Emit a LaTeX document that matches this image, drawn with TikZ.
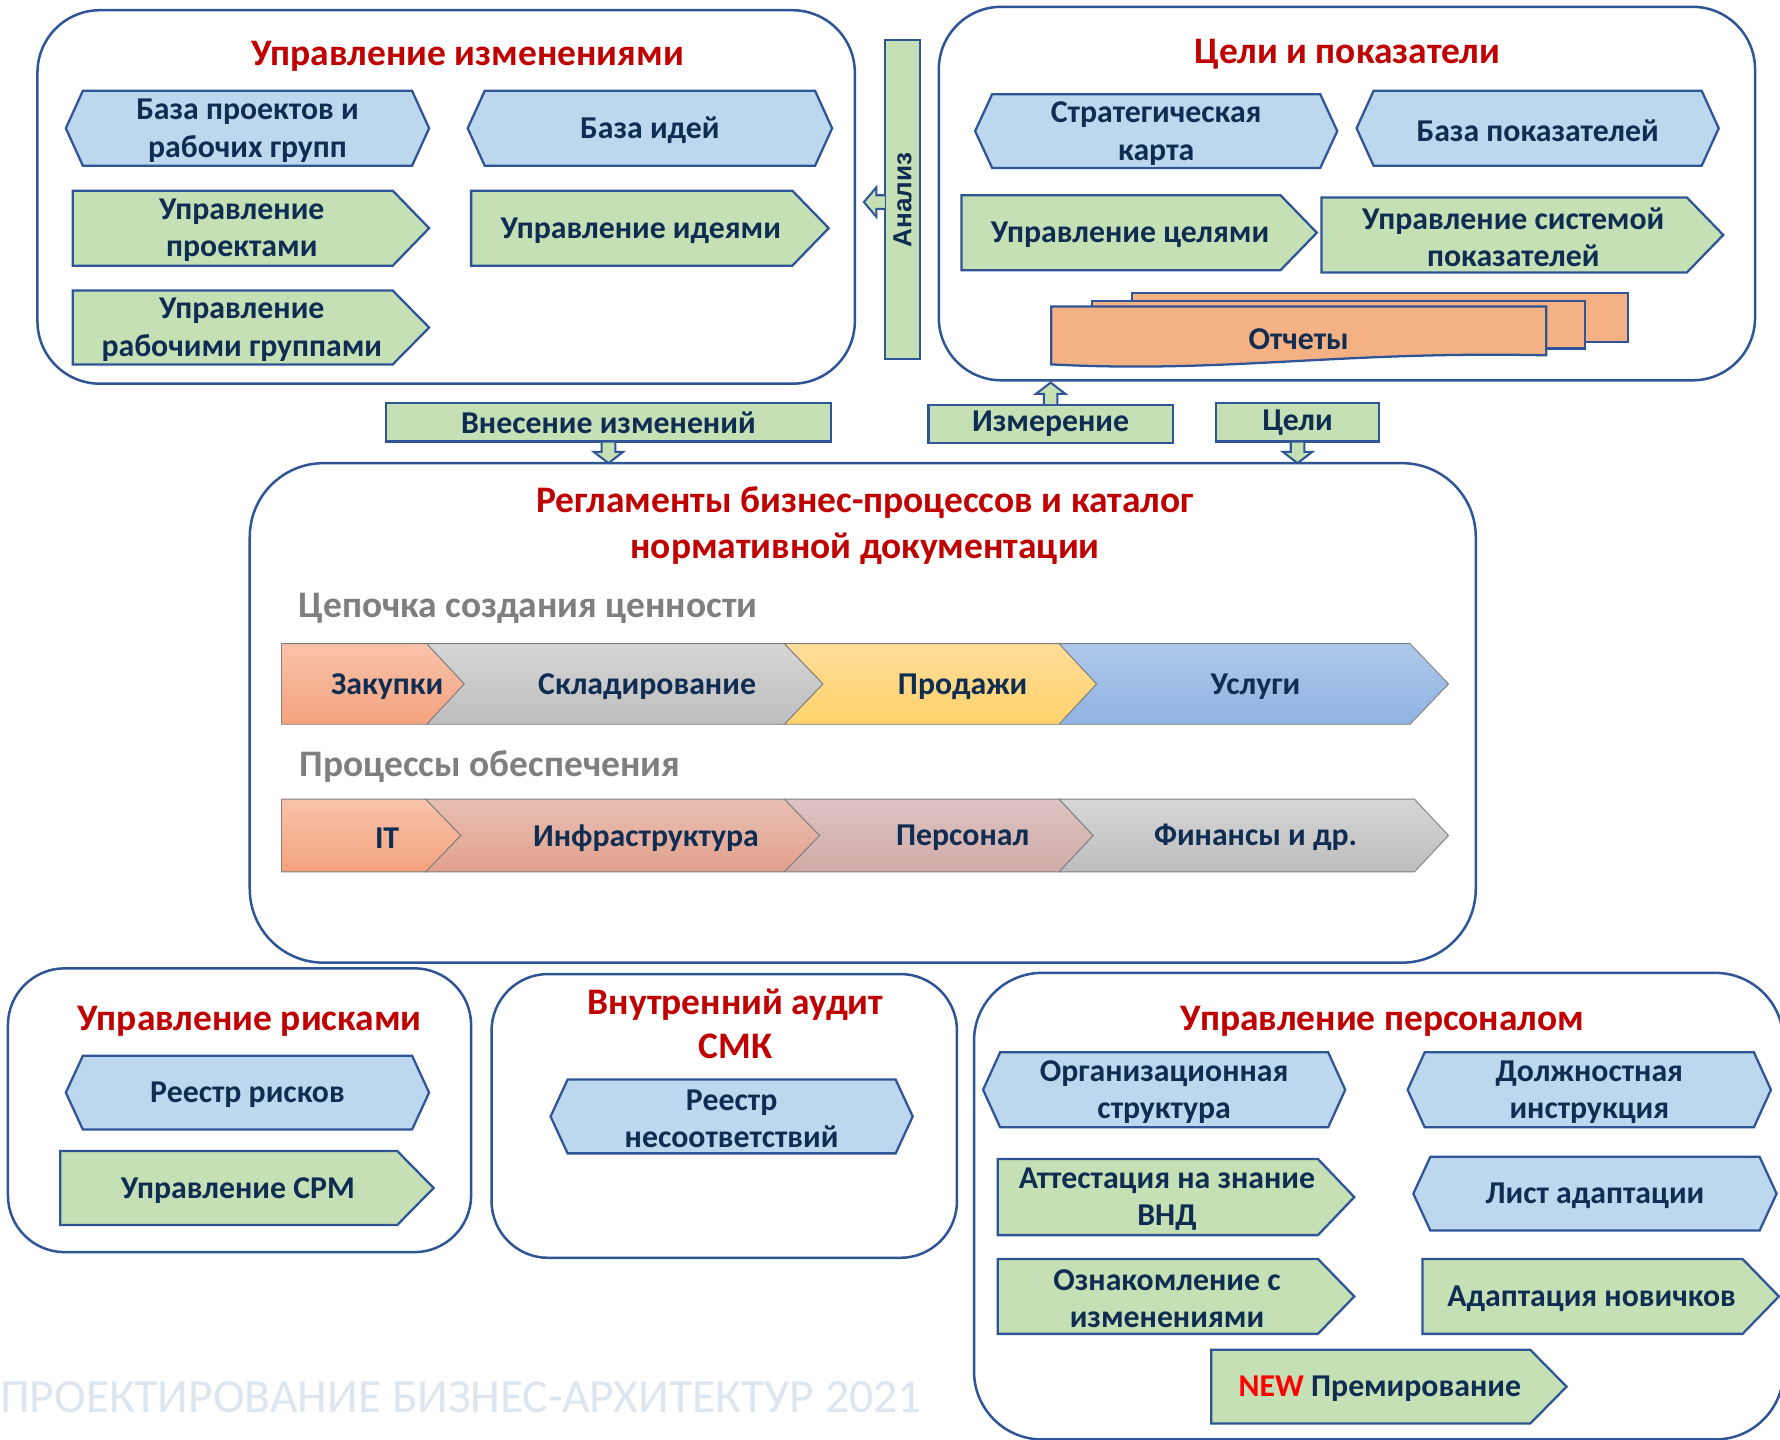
\documentclass[tikz,border=0pt]{standalone}
\usepackage{fontspec}
\setmainfont{Carlito}
\newfontfamily\arialf{Liberation Sans}
\usetikzlibrary{calc}
\definecolor{navy}{HTML}{0F2D52}
\definecolor{frame}{HTML}{2F5597}
\definecolor{hexfill}{HTML}{BDD7EE}
\definecolor{grnfill}{HTML}{C5E0B4}
\definecolor{ttl}{HTML}{C00000}
\definecolor{repfill}{HTML}{F4B183}
\definecolor{graytxt}{HTML}{7F7F7F}
\definecolor{wm}{HTML}{DDE5EE}
\definecolor{zakT}{HTML}{F8C3AA}\definecolor{zakB}{HTML}{F4A27E}
\definecolor{grT}{HTML}{D6D6D6}\definecolor{grB}{HTML}{BDBDBD}
\definecolor{prT}{HTML}{FFDD9A}\definecolor{prB}{HTML}{FFD26A}
\definecolor{usT}{HTML}{AEC8EA}\definecolor{usB}{HTML}{8FB3E2}
\definecolor{infT}{HTML}{E8BFB3}\definecolor{infB}{HTML}{E2A08C}
\definecolor{perT}{HTML}{DCC4C2}\definecolor{perB}{HTML}{D0AAA7}
\definecolor{chevline}{HTML}{808080}
\tikzset{
  x=1pt, y=-1pt,
  panel/.style={draw=frame, line width=2.2pt, rounded corners=55pt},
  hexshape/.style={draw=frame, fill=hexfill, line width=2pt},
  grnshape/.style={draw=frame, fill=grnfill, line width=2pt},
  repshape/.style={draw=frame, fill=repfill, line width=2pt},
  txt/.style={font=\fontsize{28}{33}\selectfont\bfseries, text=navy, align=center, inner sep=0pt},
  ttlstyle/.style={font=\fontsize{33}{40}\selectfont\bfseries, text=ttl, align=center, inner sep=0pt},
  substyle/.style={font=\fontsize{33}{38}\selectfont\bfseries, text=graytxt, anchor=west, inner sep=0pt},
  chev/.style={draw=chevline, line width=0.8pt},
  lblbox/.style={draw=frame, fill=grnfill, line width=2pt, inner sep=0pt, font=\fontsize{28}{33}\selectfont\bfseries, text=navy},
  blk/.style={draw=frame, fill=grnfill, line width=1.8pt},
}
\newcommand\hexnode[6]{%
  \draw[hexshape] (#2,{(#3+#5)/2}) -- (#2+15,#3) -- (#4-15,#3) -- (#4,{(#3+#5)/2}) -- (#4-15,#5) -- (#2+15,#5) -- cycle;
  \node[txt] (#1) at ({(#2+#4)/2},{(#3+#5)/2+2}) {#6};}
\newcommand\grnnode[6]{%
  \draw[grnshape] (#2,#3) -- (#4-32,#3) -- (#4,{(#3+#5)/2}) -- (#4-32,#5) -- (#2,#5) -- cycle;
  \node[txt] (#1) at ({(#2+#4-16)/2},{(#3+#5)/2+2}) {#6};}
\newcommand\blkdown[2]{%
  \draw[blk] ($(#1)+(-6,0)$) -- ($(#2)+(-6,-10)$) -- ($(#2)+(-13,-10)$) -- (#2) -- ($(#2)+(13,-10)$) -- ($(#2)+(6,-10)$) -- ($(#1)+(6,0)$);}
\newcommand\blkup[2]{%
  \draw[blk] ($(#1)+(-6,0)$) -- ($(#2)+(-6,10)$) -- ($(#2)+(-13,10)$) -- (#2) -- ($(#2)+(13,10)$) -- ($(#2)+(6,10)$) -- ($(#1)+(6,0)$);}
\newcommand\blkleft[2]{%
  \draw[blk] ($(#1)+(0,-6)$) -- ($(#2)+(11,-6)$) -- ($(#2)+(11,-13)$) -- (#2) -- ($(#2)+(11,13)$) -- ($(#2)+(11,6)$) -- ($(#1)+(0,6)$);}
\begin{document}
\begin{tikzpicture}
\useasboundingbox (0,0) rectangle (1568,1268);
\clip (0,0) rectangle (1568,1268);
\fill[white] (0,0) rectangle (1568,1268);

% watermark
\node[anchor=west, text=wm, inner sep=0pt, font=\fontsize{42}{50}\selectfont] (wmk) at (0,1231) {ПРОЕКТИРОВАНИЕ БИЗНЕС-АРХИТЕКТУР 2021};

% ---------- Panel A
\draw[panel] (33,9) rectangle (753,338);
\node[ttlstyle] (tA) at (412,50) {Управление изменениями};
\hexnode{hA1}{58}{80}{378}{146}{База проектов и\\рабочих групп}
\hexnode{hA2}{412}{80}{733}{146}{База идей}
\grnnode{gA1}{64}{168}{378}{234}{Управление\\проектами}
\grnnode{gA2}{415}{168}{730}{234}{Управление идеями}
\grnnode{gA3}{64}{256}{378}{321}{Управление\\рабочими группами}

% ---------- Analysis bar
\node[draw=frame, fill=grnfill, line width=2pt, minimum width=31pt, minimum height=281pt, inner sep=0pt] (anl) at (795,176) {};
\node[rotate=90, inner sep=0pt, text=navy, font=\fontsize{23}{28}\selectfont\arialf\bfseries] (anlt) at (795,176) {Анализ};
\coordinate (anlA) at (779.5,178);
\coordinate (anlT) at (761,178);
\blkleft{anlA}{anlT}

% ---------- Panel B
\draw[panel] (827,6) rectangle (1546,335);
\node[ttlstyle] (tB) at (1187,48) {Цели и показатели};
\hexnode{hB1}{859}{83}{1178}{148}{Стратегическая\\карта}
\hexnode{hB2}{1195}{80}{1514}{146}{База показателей}
\grnnode{gB1}{847}{172}{1160}{238}{Управление целями}
\grnnode{gB2}{1164}{174}{1518}{240}{Управление системой\\показателей}
\draw[repshape] (997,258) rectangle (1434,301);
\draw[repshape] (962,265) rectangle (1396,307);
\draw[repshape] (926,270) -- (1362,270) -- (1362,313) .. controls (1180,309) and (1080,329) .. (926,321) -- cycle;
\node[txt] (rep) at (1144,299) {Отчеты};

% ---------- label boxes and block arrows
\node[lblbox, minimum width=392pt, minimum height=34pt] (vnes) at (536,372) {\raisebox{-2pt}{Внесение изменений}};
\node[lblbox, minimum width=215pt, minimum height=33pt] (izm) at (925.5,373.5) {\raisebox{-2pt}{Измерение}};
\node[lblbox, minimum width=144pt, minimum height=34pt] (celi) at (1143,372) {\raisebox{-2pt}{Цели}};
\coordinate (Ct1) at (536,408);
\coordinate (Bb1) at (925.5,337);
\coordinate (Ct2) at (1143,408);

% ---------- Panel C
\draw[panel, rounded corners=65pt] (220,408) rectangle (1300,848);
\blkdown{vnes.south}{Ct1}
\blkup{izm.north}{Bb1}
\blkdown{celi.south}{Ct2}
\node[ttlstyle] (tC) at (762,463) {Регламенты бизнес-процессов и каталог\\нормативной документации};
\node[substyle] (s1) at (263,536) {Цепочка создания ценности};
\node[substyle] (s2) at (264,675) {Процессы обеспечения};

% row 1
\draw[chev, top color=zakT, bottom color=zakB] (248,567) -- (376,567) -- (409,602.5) -- (376,638) -- (248,638) -- cycle;
\draw[chev, top color=grT, bottom color=grB] (376,567) -- (691,567) -- (725,602.5) -- (691,638) -- (376,638) -- (409,602.5) -- cycle;
\draw[chev, top color=prT, bottom color=prB] (691,567) -- (933,567) -- (966,602.5) -- (933,638) -- (691,638) -- (725,602.5) -- cycle;
\draw[chev, top color=usT, bottom color=usB] (933,567) -- (1242,567) -- (1276,602.5) -- (1242,638) -- (933,638) -- (966,602.5) -- cycle;
\node[txt] (c1) at (341,605) {Закупки};
\node[txt] (c2) at (570,605) {Складирование};
\node[txt] (c3) at (848,605) {Продажи};
\node[txt] (c4) at (1106,605) {Услуги};

% row 2
\draw[chev, top color=zakT, bottom color=zakB] (248,704) -- (375,704) -- (406,736) -- (375,768) -- (248,768) -- cycle;
\draw[chev, top color=infT, bottom color=infB] (375,704) -- (691,704) -- (722,736) -- (691,768) -- (375,768) -- (406,736) -- cycle;
\draw[chev, top color=perT, bottom color=perB] (691,704) -- (933,704) -- (963,736) -- (933,768) -- (691,768) -- (722,736) -- cycle;
\draw[chev, top color=grT, bottom color=grB] (933,704) -- (1246,704) -- (1276,736) -- (1246,768) -- (933,768) -- (963,736) -- cycle;
\node[txt] (d1) at (341,738) {IT};
\node[txt] (d2) at (569,738) {Инфраструктура};
\node[txt] (d3) at (848,738) {Персонал};
\node[txt] (d4) at (1106,738) {Финансы и др.};

% ---------- Panel D
\draw[panel, rounded corners=50pt] (7,853) rectangle (415,1103);
\node[ttlstyle] (tD) at (220,900) {Управление рисками};
\hexnode{hD1}{58}{930}{378}{995}{Реестр рисков}
\grnnode{gD1}{53}{1014}{382}{1079}{Управление CPM}

% ---------- Panel E
\draw[panel, rounded corners=50pt] (433,858) rectangle (843,1108);
\node[ttlstyle, font=\fontsize{33}{39}\selectfont\bfseries] (tE) at (648,902) {Внутренний аудит\\СМК};
\hexnode{hE1}{485}{951}{804}{1016}{Реестр\\несоответствий}

% ---------- Panel F
\draw[panel, rounded corners=60pt] (858,857) rectangle (1571,1268);
\node[ttlstyle] (tF) at (1218,900) {Управление персоналом};
\hexnode{hF1}{866}{927}{1185}{993}{Организационная\\структура}
\hexnode{hF2}{1240}{927}{1560}{993}{Должностная\\инструкция}
\grnnode{gF1}{879}{1021}{1193}{1088}{Аттестация на знание\\ВНД}
\hexnode{hF3}{1245}{1019}{1565}{1084}{Лист адаптации}
\grnnode{gF2}{879}{1109}{1193}{1175}{Ознакомление с\\изменениями}
\grnnode{gF3}{1253}{1109}{1567}{1175}{Адаптация новичков}
\grnnode{gF4}{1067}{1189}{1380}{1254}{{\color{red}NEW} Премирование}
\end{tikzpicture}
\end{document}
